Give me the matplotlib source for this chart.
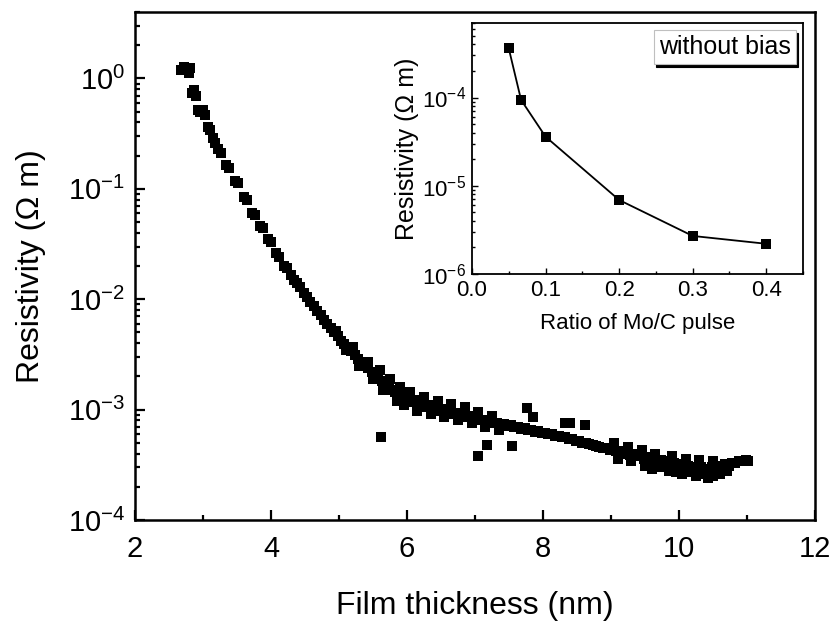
import matplotlib
matplotlib.use("Agg")
from matplotlib import pyplot as plt
from matplotlib.ticker import MultipleLocator, LogLocator, NullFormatter

plt.rcParams['font.family'] = ['Liberation Sans', 'DejaVu Sans']
plt.rcParams['mathtext.fontset'] = 'custom'
plt.rcParams['mathtext.rm'] = 'Liberation Sans'
plt.rcParams['mathtext.it'] = 'Liberation Sans'

# Main panel: resistivity vs film thickness
# early region: discrete blobs
thick_a = [2.68, 2.72, 2.76, 2.79, 2.81, 2.84, 2.87, 2.90, 2.93, 2.96, 3.00, 3.03,
           3.07, 3.10, 3.14, 3.17, 3.22, 3.26, 3.34, 3.38, 3.47, 3.51, 3.60, 3.64,
           3.72, 3.76, 3.84, 3.88, 3.96, 4.00, 4.08, 4.12, 4.19, 4.23, 4.30, 4.34]
rho_a = [1.20, 1.26, 1.22, 1.12, 1.25, 0.74, 0.78, 0.70, 0.52, 0.50, 0.52, 0.47,
         0.36, 0.34, 0.29, 0.26, 0.23, 0.21, 0.165, 0.155, 0.118, 0.112, 0.084, 0.080,
         0.061, 0.058, 0.046, 0.044, 0.035, 0.033, 0.026, 0.024, 0.020, 0.019, 0.0165, 0.015]

# steep continuous part
thick_b = [4.38, 4.43, 4.48, 4.53, 4.58, 4.63, 4.68, 4.73, 4.78, 4.83, 4.88, 4.93,
           4.98, 5.03, 5.08, 5.13, 5.18, 5.23, 5.28, 5.33, 5.38, 5.43, 5.48, 5.53,
           5.58, 5.63, 5.68, 5.73, 5.78, 5.83, 5.88, 5.93, 5.98]
rho_b = [0.0140, 0.0128, 0.0115, 0.0105, 0.0095, 0.0086, 0.0079, 0.0072, 0.0065, 0.0060,
         0.0055, 0.0050, 0.0046, 0.0042, 0.0039, 0.0036, 0.0034, 0.0031, 0.0029, 0.0027,
         0.0025, 0.0024, 0.0022, 0.0021, 0.0019, 0.0018, 0.0017, 0.0016, 0.0015, 0.00145,
         0.0014, 0.00133, 0.00127]

# flat tail
thick_c = [6.03, 6.08, 6.13, 6.18, 6.23, 6.28, 6.33, 6.38, 6.43, 6.48, 6.53, 6.58,
           6.63, 6.68, 6.73, 6.78, 6.83, 6.88, 6.93, 6.98, 7.03, 7.08, 7.13, 7.18,
           7.23, 7.28, 7.33, 7.38, 7.43, 7.48, 7.53, 7.58, 7.63, 7.68, 7.73, 7.78,
           7.83, 7.88, 7.93, 7.98, 8.03, 8.08, 8.13, 8.18, 8.23, 8.28, 8.33, 8.38,
           8.43, 8.48, 8.53, 8.58, 8.63, 8.68, 8.73, 8.78, 8.83, 8.88, 8.93, 8.98,
           9.03, 9.08, 9.13, 9.18, 9.23, 9.28, 9.33, 9.38, 9.43, 9.48, 9.53, 9.58,
           9.63, 9.68, 9.73, 9.78, 9.83, 9.88, 9.93, 9.98, 10.03, 10.08, 10.13, 10.18,
           10.23, 10.28, 10.33, 10.38, 10.43, 10.48, 10.53, 10.58, 10.63, 10.68, 10.73,
           10.78, 10.83, 10.88, 10.93, 10.98, 11.02]
rho_c = [0.00125, 0.00118, 0.00121, 0.00112, 0.00115, 0.00106, 0.00110, 0.00102,
         0.00105, 0.00098, 0.00101, 0.00094, 0.00097, 0.00091, 0.00093, 0.00088,
         0.00090, 0.00085, 0.00087, 0.00082, 0.00084, 0.00080, 0.00081, 0.00077,
         0.00079, 0.00075, 0.00076, 0.00073, 0.00074, 0.00071, 0.00072, 0.00069,
         0.00070, 0.00067, 0.00068, 0.00065, 0.00066, 0.00063, 0.00064, 0.00061,
         0.00062, 0.00060, 0.00060, 0.00058, 0.00058, 0.00056, 0.00056, 0.00054,
         0.00054, 0.00052, 0.00052, 0.00050, 0.00050, 0.00049, 0.00048, 0.00047,
         0.00046, 0.00045, 0.00045, 0.00043, 0.00044, 0.00042, 0.00042, 0.00040,
         0.00041, 0.00039, 0.00040, 0.00038, 0.00038, 0.00036, 0.00037, 0.00035,
         0.00036, 0.00034, 0.00035, 0.00033, 0.00034, 0.00032, 0.00033, 0.00031,
         0.00032, 0.00030, 0.00031, 0.00029, 0.00030, 0.00029, 0.00030, 0.00028,
         0.00029, 0.00030, 0.00029, 0.00031, 0.00030, 0.00032, 0.00031, 0.00033,
         0.00033, 0.00034, 0.00034, 0.00035, 0.00034]

# scatter around the band and outliers
thick_d = [4.95, 5.10, 5.20, 5.30, 5.42, 5.50,
           5.60, 5.62, 5.65, 5.75, 5.85, 5.90, 5.95, 6.05, 6.15, 6.25, 6.35, 6.45,
           6.55, 6.65, 6.75, 6.85, 6.95, 7.05, 7.15, 7.25, 7.35, 7.05, 7.17, 7.54,
           7.77, 7.85, 8.32, 8.40, 8.62, 9.05, 9.10, 9.25, 9.30, 9.45, 9.50, 9.60,
           9.65, 9.70, 9.85, 9.90, 9.95, 10.05, 10.10, 10.15, 10.25, 10.30, 10.35,
           10.42, 10.50, 10.50, 10.60, 10.70]
rho_d = [0.0052, 0.0035, 0.0037, 0.0025, 0.0027, 0.0019,
         0.0023, 0.00056, 0.0015, 0.0019, 0.0012, 0.0016, 0.0011, 0.00145, 0.00098,
         0.00130, 0.00092, 0.00120, 0.00085, 0.00112, 0.00080, 0.00105, 0.00076,
         0.00095, 0.00070, 0.00088, 0.00066, 0.00038, 0.00048, 0.00047, 0.00103,
         0.00085, 0.00076, 0.00076, 0.00073, 0.00050, 0.00036, 0.00046, 0.00034,
         0.00043, 0.00031, 0.00029, 0.00040, 0.00030, 0.00028, 0.00038, 0.00027,
         0.00026, 0.00036, 0.00027, 0.00025, 0.00035, 0.00026, 0.00024, 0.00025,
         0.00034, 0.00026, 0.00028]

# Inset: resistivity vs Mo/C pulse ratio
ratio = [0.05, 0.0667, 0.1, 0.2, 0.3, 0.4]
rho_ratio = [3.6e-4, 9.4e-5, 3.6e-5, 6.9e-6, 2.7e-6, 2.2e-6]

fig = plt.figure(figsize=(8.4, 6.23), dpi=100)
ax = fig.add_axes([0.1607, 0.1653, 0.8095, 0.8154])

for xs, ys in [(thick_a, rho_a), (thick_b, rho_b), (thick_c, rho_c), (thick_d, rho_d)]:
    ax.plot(xs, ys, 's', color='k', ms=7, mew=0)

ax.set_yscale('log')
ax.set_xlim(2, 12)
ax.set_ylim(1e-4, 4)
ax.xaxis.set_major_locator(MultipleLocator(2))
ax.xaxis.set_minor_locator(MultipleLocator(1))
ax.yaxis.set_major_locator(LogLocator(base=10, numticks=10))
ax.yaxis.set_minor_locator(LogLocator(base=10, subs=range(2, 10), numticks=20))
ax.yaxis.set_minor_formatter(NullFormatter())
ax.tick_params(which='both', direction='in', top=False, right=False, labelsize=21, width=1.6)
ax.tick_params(which='major', length=7)
ax.tick_params(which='minor', length=3.8)
ax.tick_params(axis='x', which='major', pad=11)
ax.tick_params(axis='y', which='major', pad=7)
for sp in ax.spines.values():
    sp.set_linewidth(1.8)
ax.set_xlabel('Film thickness (nm)', fontsize=23, labelpad=20)
ax.set_ylabel('Resistivity (\u03a9 m)', fontsize=23, labelpad=16)

# inset
axi = fig.add_axes([0.5619, 0.5602, 0.3941, 0.4029])
axi.plot(ratio, rho_ratio, '-s', color='k', lw=1.3, ms=7, mew=0)
axi.set_yscale('log')
axi.set_xlim(0, 0.45)
axi.set_ylim(1e-6, 7e-4)
axi.xaxis.set_major_locator(MultipleLocator(0.1))
axi.xaxis.set_minor_locator(MultipleLocator(0.05))
axi.yaxis.set_major_locator(LogLocator(base=10, numticks=10))
axi.yaxis.set_minor_locator(LogLocator(base=10, subs=range(2, 10), numticks=20))
axi.yaxis.set_minor_formatter(NullFormatter())
axi.tick_params(which='both', direction='in', top=False, right=False, labelsize=16, width=1.0)
axi.tick_params(which='major', length=4, pad=4)
axi.tick_params(which='minor', length=2)
for sp in axi.spines.values():
    sp.set_linewidth(1.3)
axi.set_xlabel('Ratio of Mo/C pulse', fontsize=16, labelpad=9)
axi.set_ylabel('Resistivity (\u03a9 m)', fontsize=18, labelpad=2)

axi.plot([], [], ' ', label='without bias')
leg = axi.legend(loc='upper right', handlelength=0, handletextpad=0, fontsize=18,
                 fancybox=False, framealpha=1, edgecolor='0.75', borderpad=0.2,
                 borderaxespad=0.3, shadow={'color': 'k', 'alpha': 1})
leg.get_frame().set_linewidth(0.8)

fig.savefig('out.png', dpi=100)
